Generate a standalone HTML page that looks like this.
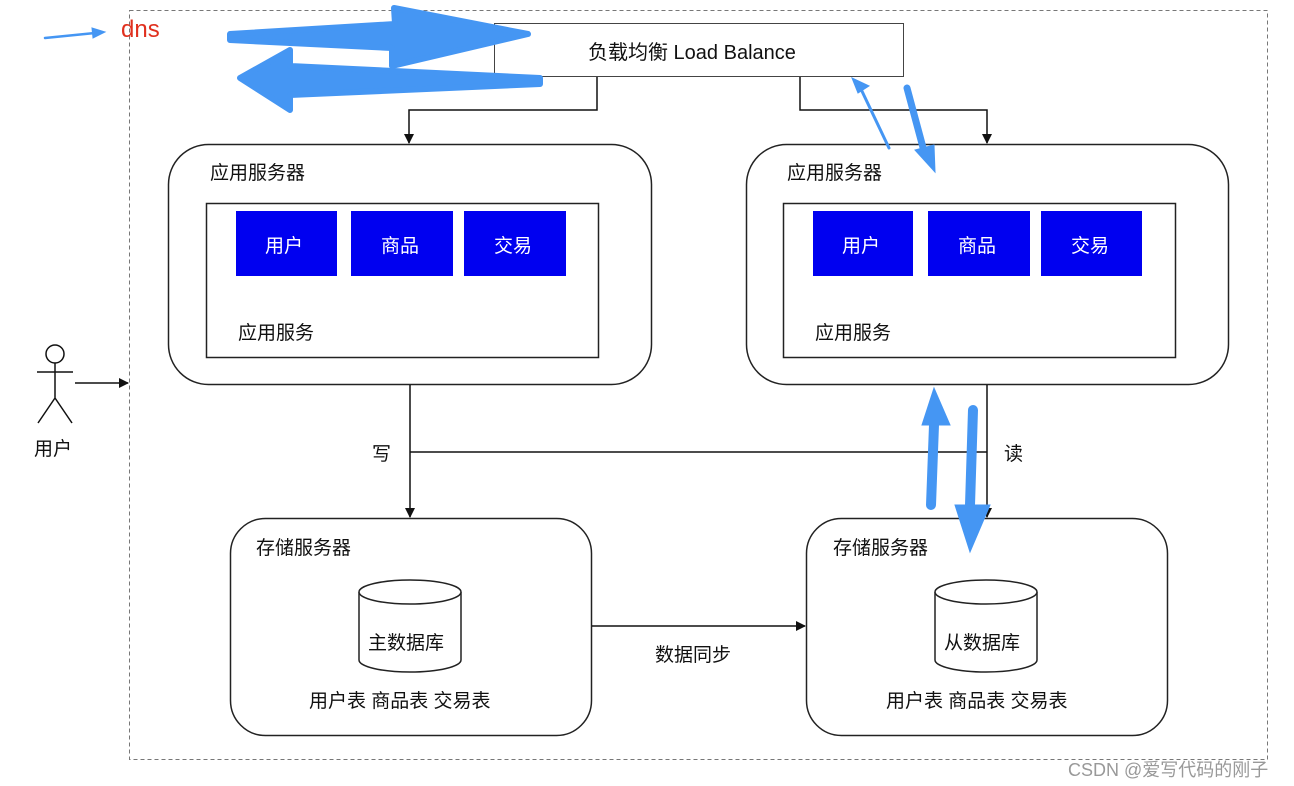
<!DOCTYPE html>
<html><head><meta charset="utf-8"><style>
body{margin:0;background:#fff;width:1294px;height:786px;overflow:hidden;position:relative;font-family:"Liberation Sans","Noto Sans CJK SC",sans-serif}
.t{position:absolute;font-size:19px;color:#111;white-space:nowrap}
</style></head><body>
<svg width="1294" height="786" style="position:absolute;left:0;top:0">
<defs>
<marker id="r" markerWidth="10" markerHeight="10" refX="9" refY="5" orient="auto" markerUnits="userSpaceOnUse"><path d="M0,0 L10,5 L0,10 z" fill="#111"/></marker></defs>
<rect x="129.5" y="10.5" width="1138" height="749" fill="none" stroke="#777" stroke-dasharray="4,3"/>
<rect x="494.5" y="23.5" width="409" height="53" fill="#fff" stroke="#444"/>
<rect x="168.5" y="144.5" width="483" height="240" rx="40" fill="none" stroke="#222" stroke-width="1.5"/>
<rect x="206.5" y="203.5" width="392" height="154" fill="none" stroke="#222" stroke-width="1.5"/>
<rect x="746.5" y="144.5" width="482" height="240" rx="40" fill="none" stroke="#222" stroke-width="1.5"/>
<rect x="783.5" y="203.5" width="392" height="154" fill="none" stroke="#222" stroke-width="1.5"/>
<g fill="#0000f0"><rect x="236" y="211" width="101" height="65"/><rect x="351" y="211" width="102" height="65"/><rect x="464" y="211" width="102" height="65"/>
<rect x="813" y="211" width="100" height="65"/><rect x="928" y="211" width="102" height="65"/><rect x="1041" y="211" width="101" height="65"/></g>
<rect x="230.5" y="518.5" width="361" height="217" rx="35" fill="none" stroke="#222" stroke-width="1.5"/>
<rect x="806.5" y="518.5" width="361" height="217" rx="35" fill="none" stroke="#222" stroke-width="1.5"/>
<g fill="#fff" stroke="#222" stroke-width="1.5">
<path d="M359,592 v68 a51,12 0 0 0 102,0 v-68"/><ellipse cx="410" cy="592" rx="51" ry="12"/>
<path d="M935,592 v68 a51,12 0 0 0 102,0 v-68"/><ellipse cx="986" cy="592" rx="51" ry="12"/></g>
<g stroke="#111" stroke-width="1.5" fill="none">
<path d="M597,77 V110 H409 V143" marker-end="url(#r)"/>
<path d="M800,77 V110 H987 V143" marker-end="url(#r)"/>
<path d="M410,385 V517" marker-end="url(#r)"/>
<path d="M410,452 H987"/>
<path d="M987,385 V517" marker-end="url(#r)"/>
<path d="M592,626 H805" marker-end="url(#r)"/>
<path d="M75,383 H128" marker-end="url(#r)"/>
<circle cx="55" cy="354" r="9"/><path d="M55,363 V398 M37,372 H73 M55,398 L38,423 M55,398 L72,423"/>
</g>
<g fill="#4596f3" stroke="#4596f3" stroke-linecap="round">
<path d="M45,38 L95,33" stroke-width="2.5" fill="none"/><path d="M92,28 L105,32 L93,38z"/>
<path d="M230,34 L395,24 L394,8 L528,34 L392,66 L392,48 L230,40z" stroke-width="6" stroke-linejoin="round"/>
<path d="M540,84 L290,95 L290,110 L240,78 L290,50 L290,66 L540,78z" stroke-width="6" stroke-linejoin="round"/>
<path d="M889,148 L860,87" stroke-width="3" fill="none"/><path d="M852,78 L869,86 L858,93z"/>
<path d="M907,88 L925,155" stroke-width="7" fill="none"/><path d="M915,150 L935,172 L934,145z"/>
<path d="M931,505 L934,425" stroke-width="10" fill="none"/><path d="M922,425 L934,388 L950,425z"/>
<path d="M973,410 L970,505" stroke-width="10" fill="none"/><path d="M955,505 L970,552 L990,505z"/>
</g>
</svg>
<div class="t" style="left:121px;top:16px;font-size:24px;color:#e0301e">dns</div>
<div class="t" style="left:588px;top:36px;font-size:20px">负载均衡 Load Balance</div>
<div class="t" style="left:210px;top:158px">应用服务器</div>
<div class="t" style="left:787px;top:158px">应用服务器</div>
<div class="t" style="left:265px;top:231px;color:#fff">用户</div>
<div class="t" style="left:381px;top:231px;color:#fff">商品</div>
<div class="t" style="left:494px;top:231px;color:#fff">交易</div>
<div class="t" style="left:842px;top:231px;color:#fff">用户</div>
<div class="t" style="left:958px;top:231px;color:#fff">商品</div>
<div class="t" style="left:1071px;top:231px;color:#fff">交易</div>
<div class="t" style="left:238px;top:318px">应用服务</div>
<div class="t" style="left:815px;top:318px">应用服务</div>
<div class="t" style="left:372px;top:439px">写</div>
<div class="t" style="left:1004px;top:439px">读</div>
<div class="t" style="left:256px;top:533px">存储服务器</div>
<div class="t" style="left:833px;top:533px">存储服务器</div>
<div class="t" style="left:368px;top:628px">主数据库</div>
<div class="t" style="left:944px;top:628px">从数据库</div>
<div class="t" style="left:309px;top:686px">用户表 商品表 交易表</div>
<div class="t" style="left:886px;top:686px">用户表 商品表 交易表</div>
<div class="t" style="left:655px;top:640px">数据同步</div>
<div class="t" style="left:34px;top:434px">用户</div>
<div class="t" style="left:1068px;top:756px;font-size:18px;color:#999">CSDN @爱写代码的刚子</div>
</body></html>
